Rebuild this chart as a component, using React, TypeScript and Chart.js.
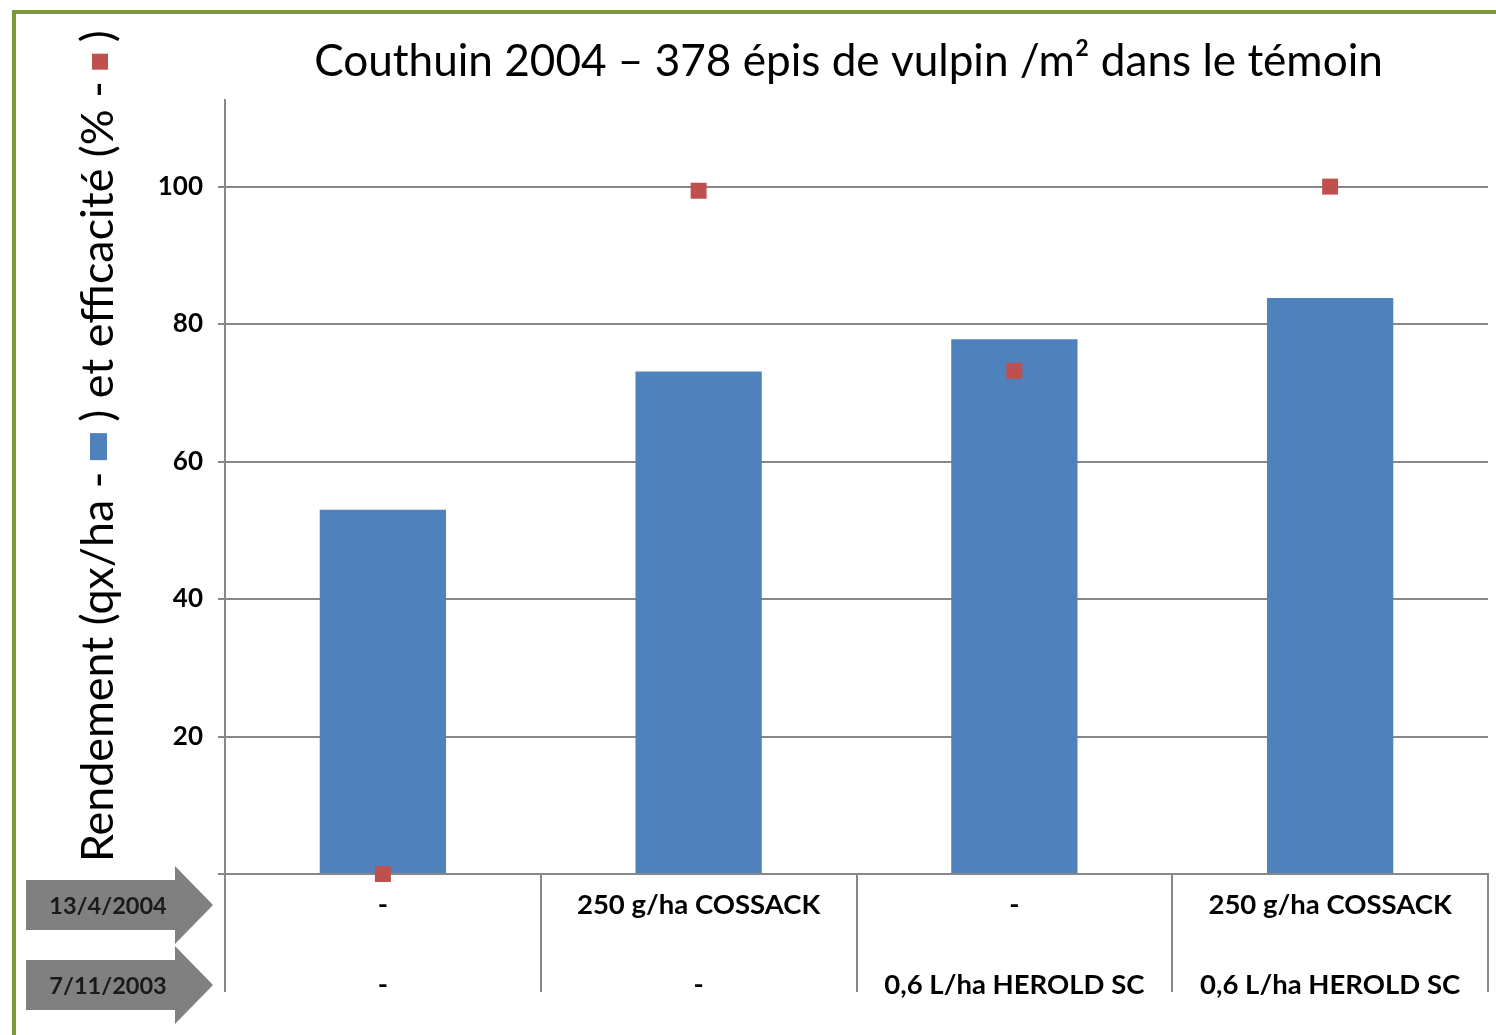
import React, { useEffect, useRef } from "react";
import { Chart, registerables } from "chart.js";

Chart.register(...registerables);

// ---------- data ----------
const categories: string[][] = [
  ["-", "-"],
  ["250 g/ha COSSACK", "-"],
  ["-", "0,6 L/ha HEROLD SC"],
  ["250 g/ha COSSACK", "0,6 L/ha HEROLD SC"],
];
const rendement = [53.0, 73.1, 77.8, 83.8];
const efficacite = [0, 99.4, 73.2, 100];
const yTickValues = [0, 20, 40, 60, 80, 100];
const yMax = 112.6;
const dateLabels = ["13/4/2004", "7/11/2003"];
const titleText = "Couthuin 2004 – 378 épis de vulpin /m² dans le témoin";
const yTitleParts = ["Rendement (qx/ha - ", " ) et efficacité (% - ", " )"];

// ---------- styles ----------
const BLUE = "#4F81BD";
const RED = "#C0504D";
const GRID = "#878787";
const FRAME = "#7B983B";
const FONT = "Lato";
const X_TICK_LEN = 118;
const X_LINE_H = 80;
const X_PAD = -127;

const extrasPlugin = {
  id: "extras",
  afterDraw(chart: any) {
    const ctx: CanvasRenderingContext2D = chart.ctx;
    ctx.save();
    // frame
    ctx.strokeStyle = FRAME;
    ctx.lineWidth = 4;
    ctx.strokeRect(14, 12, 1600, 1200);

    // title
    ctx.fillStyle = "#000";
    ctx.textBaseline = "alphabetic";
    ctx.textAlign = "left";
    ctx.font = `40px ${FONT}`;
    const tw0 = ctx.measureText(titleText).width;
    const tf = (40 * 1069) / tw0;
    ctx.font = `${tf}px ${FONT}`;
    const tw = ctx.measureText(titleText).width;
    ctx.fillText(titleText, 848.5 - tw / 2, 76);

    // y-axis title with coloured squares
    ctx.font = `40px ${FONT}`;
    const pw0 = yTitleParts.reduce((s, p) => s + ctx.measureText(p).width, 0);
    const sqBlueLen = 27, sqRedLen = 16;
    const yf = (40 * (832 - sqBlueLen - sqRedLen)) / pw0;
    ctx.font = `${yf}px ${FONT}`;
    ctx.translate(113, 862);
    ctx.rotate(-Math.PI / 2);
    let pos = 0;
    const drawPart = (t: string) => {
      ctx.fillStyle = "#000";
      ctx.fillText(t, pos, 0);
      pos += ctx.measureText(t).width;
    };
    drawPart(yTitleParts[0]);
    ctx.fillStyle = BLUE;
    ctx.fillRect(pos, -23, sqBlueLen, 17);
    pos += sqBlueLen;
    drawPart(yTitleParts[1]);
    ctx.fillStyle = RED;
    ctx.fillRect(pos, -21, sqRedLen, 16);
    pos += sqRedLen;
    drawPart(yTitleParts[2]);
    ctx.restore();

    // date arrows aligned with the x-axis label rows
    const xs = chart.scales.x;
    ctx.save();
    for (let i = 0; i < dateLabels.length; i++) {
      const yc = xs.top + X_TICK_LEN + X_PAD + X_LINE_H / 2 + i * X_LINE_H;
      ctx.fillStyle = "#808080";
      ctx.beginPath();
      ctx.moveTo(26, yc - 25);
      ctx.lineTo(175, yc - 25);
      ctx.lineTo(175, yc - 39);
      ctx.lineTo(213, yc);
      ctx.lineTo(175, yc + 39);
      ctx.lineTo(175, yc + 25);
      ctx.lineTo(26, yc + 25);
      ctx.closePath();
      ctx.fill();
      ctx.fillStyle = "#1a1a1a";
      ctx.font = `bold 23.5px ${FONT}`;
      ctx.textAlign = "center";
      ctx.textBaseline = "middle";
      ctx.fillText(dateLabels[i], 108, yc + 1);
    }
    ctx.restore();
  },
};

export default function App() {
  const ref = useRef<HTMLCanvasElement | null>(null);
  useEffect(() => {
    if (!ref.current) return;
    Chart.defaults.font.family = FONT;
    const chart = new Chart(ref.current, {
      type: "bar",
      data: {
        labels: categories as any,
        datasets: [
          {
            type: "line",
            label: "Efficacité",
            data: efficacite,
            showLine: false,
            pointStyle: "rect",
            pointRadius: 11.3,
            pointHoverRadius: 11.3,
            backgroundColor: RED,
            borderColor: RED,
            borderWidth: 0,
            clip: false,
            order: 0,
          } as any,
          {
            type: "bar",
            label: "Rendement",
            data: rendement,
            backgroundColor: BLUE,
            borderWidth: 0,
            barPercentage: 0.4,
            categoryPercentage: 1,
            order: 1,
          },
        ],
      },
      options: {
        responsive: false,
        animation: false,
        layout: { autoPadding: false, padding: { top: 100, left: 0, right: 8, bottom: 0 } } as any,
        plugins: { legend: { display: false }, tooltip: { enabled: false }, title: { display: false } },
        scales: {
          x: {
            afterFit: (s: any) => {
              s.height = 161;
              s.paddingLeft = 0;
              s.paddingRight = 0;
            },
            grid: {
              offset: true,
              drawOnChartArea: false,
              drawTicks: true,
              tickLength: X_TICK_LEN,
              color: GRID,
              lineWidth: 2,
            },
            border: { display: true, color: GRID, width: 2 },
            ticks: {
              color: "#000",
              font: { family: FONT, size: 27.5, weight: "bold", lineHeight: `${X_LINE_H}px` } as any,
              padding: X_PAD,
              maxRotation: 0,
              autoSkip: false,
            },
          },
          y: {
            min: 0,
            max: yMax,
            afterFit: (s: any) => {
              s.width = 225;
            },
            afterBuildTicks: (s: any) => {
              s.ticks = yTickValues.map((v) => ({ value: v }));
            },
            grid: { color: GRID, lineWidth: 2, tickLength: 7 },
            border: { display: true, color: GRID, width: 2 },
            ticks: {
              color: "#000",
              font: { family: FONT, size: 26, weight: "bold" },
              padding: 15,
              callback: (v: any) => (Number(v) === 0 ? "" : String(v)),
            },
          },
        },
      },
      plugins: [extrasPlugin],
    });
    return () => chart.destroy();
  }, []);
  return (
    <div style={{ position: "absolute", left: 0, top: 0, width: 1496, height: 1035, background: "#fff" }}>
      <canvas ref={ref} width={1496} height={1035} style={{ display: "block" }} />
    </div>
  );
}
